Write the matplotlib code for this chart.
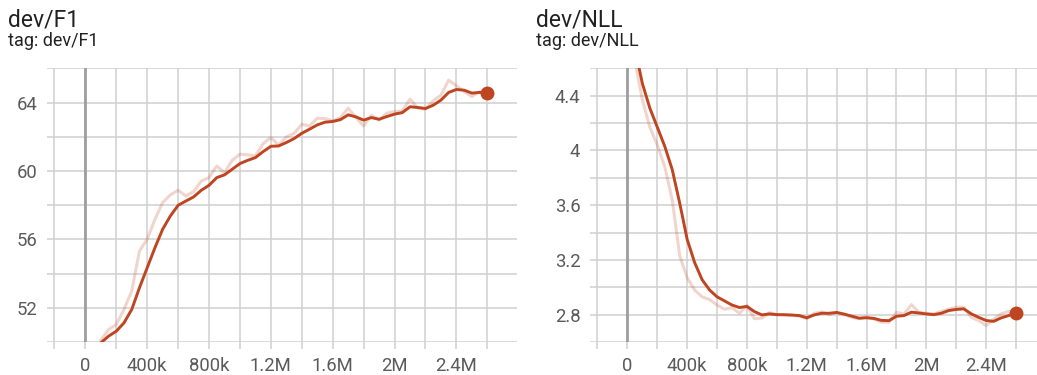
import matplotlib
matplotlib.use("Agg")
import matplotlib.pyplot as plt
import numpy as np

plt.rcParams['font.family'] = ['Roboto', 'DejaVu Sans']

# ---------------- data ----------------
f1_steps = [100e3 + 50e3 * i for i in range(51)]
f1_smooth = [49.95, 50.34, 50.63, 51.12, 51.9, 53.17, 54.34, 55.51, 56.59, 57.37,
             57.99, 58.24, 58.48, 58.87, 59.16, 59.61, 59.77, 60.1, 60.43, 60.62,
             60.78, 61.13, 61.44, 61.46, 61.66, 61.89, 62.2, 62.44, 62.69, 62.85,
             62.89, 63.0, 63.28, 63.16, 62.97, 63.12, 63.02, 63.18, 63.32, 63.41,
             63.75, 63.71, 63.65, 63.84, 64.14, 64.59, 64.76, 64.72, 64.55, 64.59,
             64.57]
f1_raw = [50.1, 50.73, 51.02, 51.9, 52.98, 55.32, 56.0, 57.17, 58.15, 58.6,
          58.87, 58.54, 58.79, 59.41, 59.61, 60.29, 59.9, 60.62, 60.98, 60.94,
          60.88, 61.6, 61.95, 61.52, 61.99, 62.19, 62.73, 62.63, 63.08, 63.06,
          62.93, 63.12, 63.67, 63.12, 62.63, 63.26, 62.97, 63.38, 63.47, 63.51,
          64.2, 63.67, 63.61, 64.1, 64.43, 65.31, 64.98, 64.64, 64.35, 64.64,
          64.57]

nll_steps = [50e3 + 50e3 * i for i in range(52)]
nll_smooth = [4.75, 4.49, 4.31, 4.17, 4.03, 3.86, 3.615, 3.35, 3.18, 3.055,
              2.98, 2.93, 2.9, 2.87, 2.852, 2.86, 2.822, 2.798, 2.805, 2.8,
              2.799, 2.797, 2.793, 2.777, 2.798, 2.81, 2.81, 2.816, 2.804, 2.789,
              2.774, 2.777, 2.772, 2.758, 2.756, 2.788, 2.793, 2.818, 2.812, 2.805,
              2.8, 2.81, 2.83, 2.838, 2.842, 2.806, 2.78, 2.757, 2.751, 2.776,
              2.793, 2.81]
nll_raw = [4.66, 4.37, 4.17, 4.04, 3.88, 3.64, 3.23, 3.07, 2.98, 2.93,
           2.91, 2.87, 2.84, 2.85, 2.81, 2.866, 2.77, 2.775, 2.815, 2.8,
           2.8, 2.795, 2.79, 2.77, 2.81, 2.82, 2.8, 2.815, 2.8, 2.78,
           2.77, 2.785, 2.768, 2.744, 2.744, 2.817, 2.805, 2.873, 2.817, 2.81,
           2.805, 2.824, 2.84, 2.854, 2.854, 2.78, 2.756, 2.72, 2.768, 2.805,
           2.824, 2.81]

x_label_ticks = [0, 400e3, 800e3, 1.2e6, 1.6e6, 2.0e6, 2.4e6]
x_labels = ['0', '400k', '800k', '1.2M', '1.6M', '2M', '2.4M']
x_grid = [-200e3 + 200e3 * i for i in range(15)]

f1_yticks = [52, 56, 60, 64]
f1_ylabels = ['52', '56', '60', '64']
f1_ygrid = [50, 54, 58, 62, 66]
nll_yticks = [2.8, 3.2, 3.6, 4.0, 4.4]
nll_ylabels = ['2.8', '3.2', '3.6', '4', '4.4']
nll_ygrid = [2.6, 3.0, 3.4, 3.8, 4.2, 4.6]

# ---------------- style ----------------
W, H = 1037, 375
LINE = '#bf4420'
GRID = '#d0d0d0'
ZERO = '#9e9e9e'
TICKC = '#5a5a5a'

fig = plt.figure(figsize=(W / 100, H / 100), dpi=100)


def px_axes(x0, x1, y0, y1):
    return fig.add_axes([x0 / W, 1 - y1 / H, (x1 - x0) / W, (y1 - y0) / H])


def style(ax, xlim, ylim, yticks, ylabels, ygrid):
    ax.set_xlim(*xlim)
    ax.set_ylim(*ylim)
    ax.set_xticks(x_grid, minor=True)
    ax.set_xticks(x_label_ticks)
    ax.set_xticklabels(x_labels)
    ax.set_yticks(ygrid, minor=True)
    ax.set_yticks(yticks)
    ax.set_yticklabels(ylabels)
    for s in ax.spines.values():
        s.set_visible(False)
    ax.grid(True, which='both', color=GRID, linewidth=1.1, zorder=0)
    ax.tick_params(axis='x', which='both', length=5, width=1.1, color=GRID,
                   labelsize=13.3, labelcolor=TICKC, pad=6)
    ax.tick_params(axis='y', which='both', length=0, labelsize=13.3,
                   labelcolor=TICKC, pad=7)
    ax.axvline(0, color=ZERO, linewidth=2, zorder=1)
    ax.set_axisbelow(True)


# left panel
ax1 = px_axes(47, 517, 68.3, 342)
style(ax1, (-248e3, 2.792e6), (50, 66), f1_yticks, f1_ylabels, f1_ygrid)
ax1.plot(f1_steps, f1_raw, color=LINE, alpha=0.22, linewidth=2.2, zorder=2)
ax1.plot(f1_steps, f1_smooth, color=LINE, linewidth=2.1, zorder=3)
ax1.plot(f1_steps[-1], f1_smooth[-1], 'o', color=LINE, markersize=9, zorder=4,
         clip_on=False)

# right panel
ax2 = px_axes(590, 1037, 68.3, 342)
style(ax2, (-250e3, 2.74e6), (2.6, 4.6), nll_yticks, nll_ylabels, nll_ygrid)
ax2.plot(nll_steps, nll_raw, color=LINE, alpha=0.22, linewidth=2.2, zorder=2)
ax2.plot(nll_steps, nll_smooth, color=LINE, linewidth=2.1, zorder=3)
ax2.plot(nll_steps[-1], nll_smooth[-1], 'o', color=LINE, markersize=9, zorder=4,
         clip_on=False)

# titles
fig.text(8 / W, 1 - 26 / H, 'dev/F1', fontsize=16.5, color='#212121',
         va='baseline', ha='left')
fig.text(8 / W, 1 - 46.5 / H, 'tag: dev/F1', fontsize=13, color='#212121',
         va='baseline', ha='left')
fig.text(536 / W, 1 - 26 / H, 'dev/NLL', fontsize=16.5, color='#212121',
         va='baseline', ha='left')
fig.text(536 / W, 1 - 46.5 / H, 'tag: dev/NLL', fontsize=13, color='#212121',
         va='baseline', ha='left')

fig.savefig('out.png', dpi=100)
